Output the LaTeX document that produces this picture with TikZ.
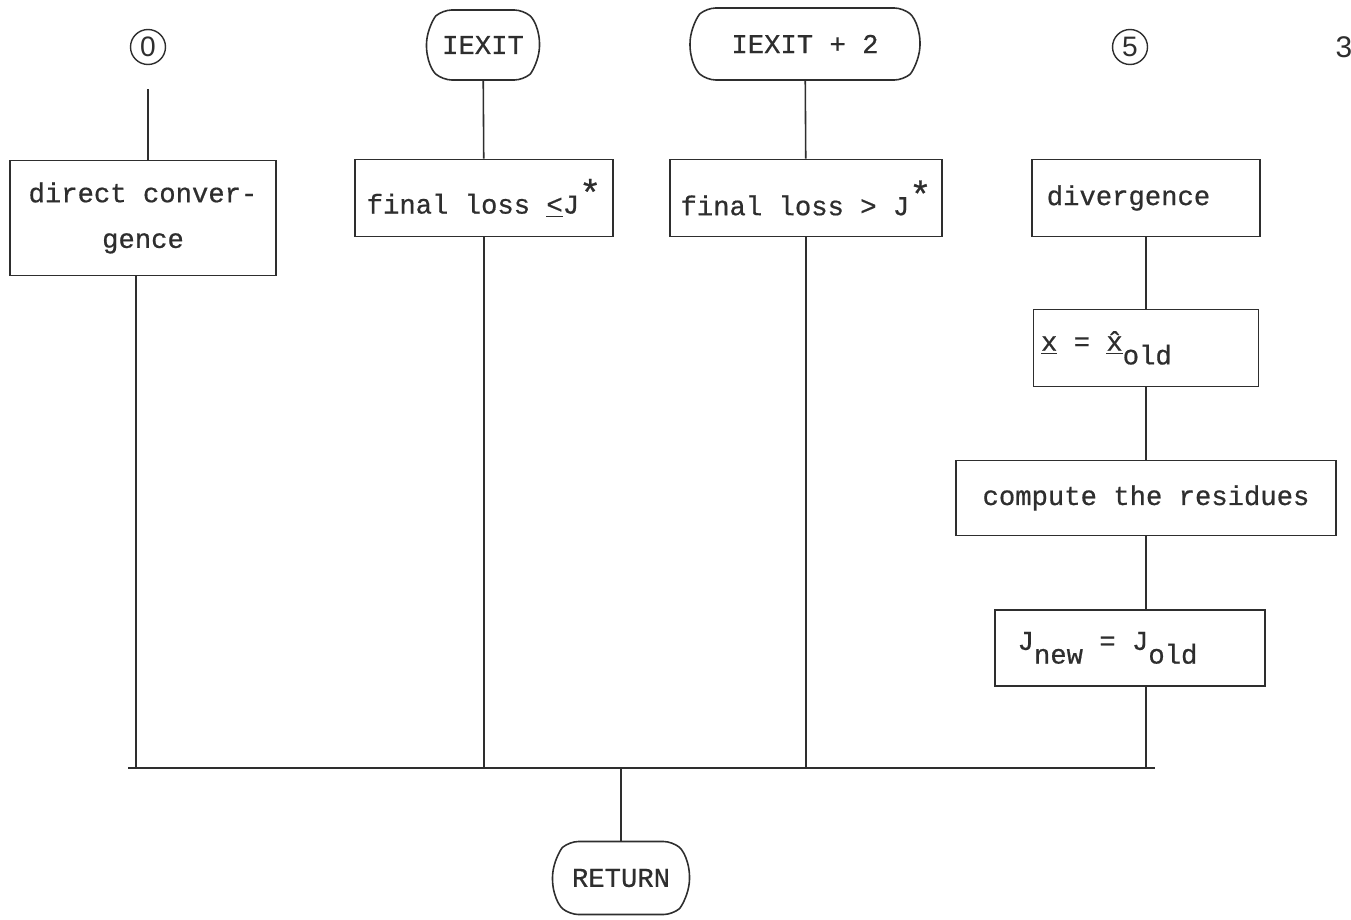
\documentclass[tikz,border=0pt]{standalone}
\usepackage{fontspec}
\setmonofont{Liberation Mono}[AutoFakeBold=0.6]
\setsansfont{Liberation Sans}
\usepackage{tikz}
\usetikzlibrary{shapes.misc}
\colorlet{ink}{black!82}
\newcommand{\upstar}{\raisebox{0.55ex}{\fontsize{21}{21}\selectfont *}}
\newcommand{\lowtxt}[1]{\raisebox{-0.95ex}{#1}}
\tikzstyle{fTerminal} = [rounded rectangle, rounded rectangle arc length=100, rounded corners=5pt, draw=ink, line width=0.9pt, text=ink, font=\ttfamily\bfseries\fontsize{15.5}{18}\selectfont, inner sep=0pt]
\tikzstyle{fConnector} = [circle, draw=ink, line width=0.8pt, minimum size=0.7cm, inner sep=0pt, text=ink, font=\sffamily\fontsize{16}{18}\selectfont]
\tikzstyle{fProcess} = [rectangle, draw=ink, line width=0.9pt, fill=white, minimum height=1.54cm, text=ink, font=\ttfamily\bfseries\fontsize{15.5}{26}\selectfont, align=center]
\tikzstyle{fLine} = [draw=ink, line width=0.9pt]

\begin{document}
\begin{tikzpicture}[x=0.02cm, y=-0.02cm, node distance=3cm]
    \useasboundingbox (0,0) rectangle (1351,919);
    \fill[white] (0,0) rectangle (1351,919);

    \node (c0) [fConnector] at (148,47) {0};
    \node (iexit) [fTerminal, minimum width=2.26cm, minimum height=1.4cm] at (483,45) {IEXIT};
    \node (iexitTwo) [fTerminal, minimum width=4.6cm, minimum height=1.44cm] at (805,44) {IEXIT + 2};
    \node (c5) [fConnector] at (1130,47) {5};
    \node (page) [text=ink, font=\sffamily\fontsize{17}{20}\selectfont, inner sep=0pt] at (1344,47) {3};

    \node (conv) [fProcess, minimum width=5.32cm, minimum height=2.3cm] at (143,218) {direct conver-\\gence};
    \node (lossLe) [fProcess, minimum width=5.16cm] at (484,198) {final loss \underline{<}J\upstar};
    \node (lossGt) [fProcess, minimum width=5.44cm] at (806,198) {final loss > J\upstar};
    \node (diverg) [fProcess, minimum width=4.56cm] at (1146,198) {divergence\hspace*{0.7cm}};
    \node (xOld) [fProcess, minimum width=4.5cm, below of=diverg] {\makebox[4.2cm][l]{\underline{x} = \underline{\^{x}}\lowtxt{old}}};
    \node (resid) [fProcess, minimum width=7.6cm, minimum height=1.5cm, below of=xOld] {compute the residues};
    \node (jOld) [fProcess, minimum width=5.4cm, minimum height=1.52cm, below of=resid, xshift=-0.32cm] {J\lowtxt{new} = J\lowtxt{old}\hspace*{0.9cm}};
    \node (ret) [fTerminal, minimum width=2.74cm, minimum height=1.46cm] at (621,878) {RETURN};

    \coordinate (busL) at (128,768);
    \coordinate (busR) at (1155,768);

    \draw [fLine, shorten <=0.48cm] (c0.south) -- (c0.south |- conv.north);
    \draw [fLine] (iexit) -- (lossLe);
    \draw [fLine] (iexitTwo) -- (lossGt);
    \draw [fLine] (diverg) -- (xOld);
    \draw [fLine] (xOld) -- (resid);
    \draw [fLine] (resid.south) -- (resid.south |- jOld.north);
    \draw [fLine] (busL) -- (busR);
    \draw [fLine] ([xshift=-0.14cm]conv.south) -- ([xshift=-0.14cm]conv.south |- busL);
    \draw [fLine] (lossLe.south) -- (lossLe.south |- busL);
    \draw [fLine] (lossGt.south) -- (lossGt.south |- busL);
    \draw [fLine] (jOld.south -| resid.south) -- (resid.south |- busL);
    \draw [fLine] (ret.north |- busL) -- (ret.north);
\end{tikzpicture}
\end{document}
